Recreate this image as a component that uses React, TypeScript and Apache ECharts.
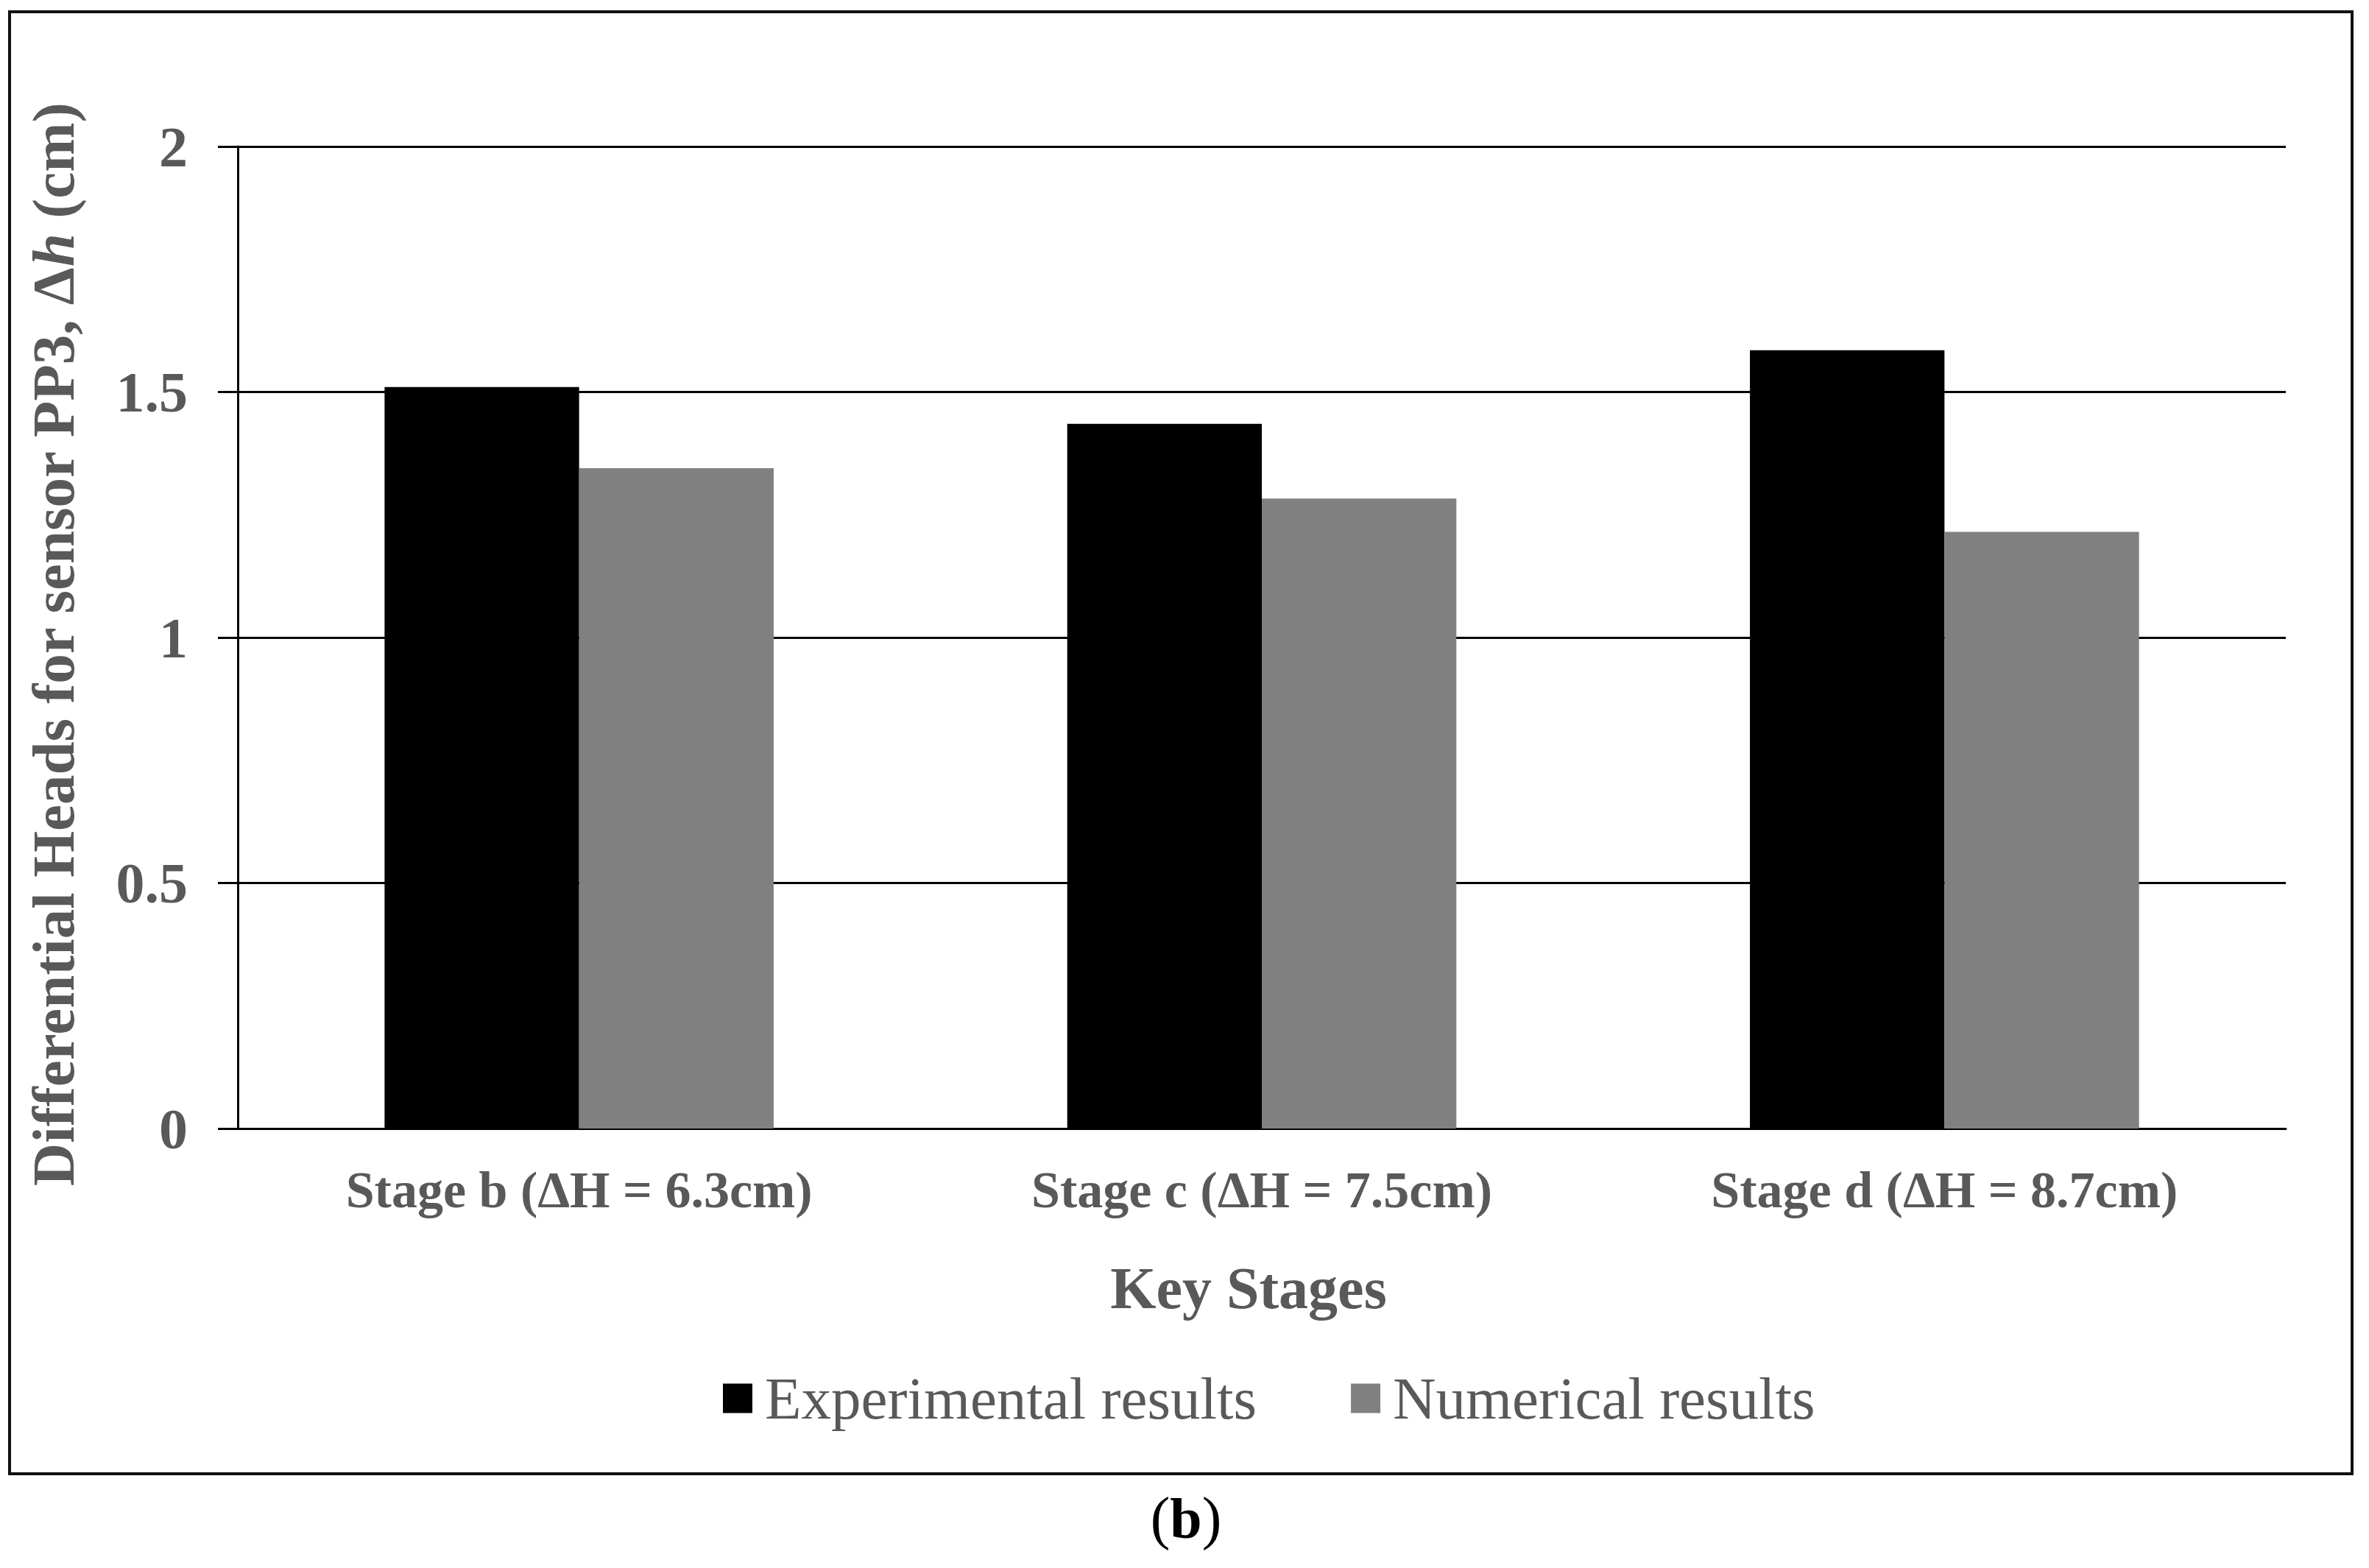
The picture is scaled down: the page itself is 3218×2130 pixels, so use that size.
import React, { useEffect, useRef } from "react";
import * as echarts from "echarts";

const categories = ["Stage b (ΔH = 6.3cm)", "Stage c (ΔH = 7.5cm)", "Stage d (ΔH = 8.7cm)"];
const experimental = [1.51, 1.435, 1.585];
const numerical = [1.345, 1.283, 1.215];
const seriesNames = ["Experimental results", "Numerical results"];
const yTicks = { min: 0, max: 2, interval: 0.5 };
const xTitle = "Key Stages";
const caption = ["(", "b", ")"];

const FONT = "'Liberation Serif', 'Times New Roman', serif";
const GREY_TEXT = "#595959";

export default function App() {
  const ref = useRef<HTMLDivElement>(null);
  useEffect(() => {
    if (!ref.current) return;
    const chart = echarts.init(ref.current, null, { renderer: "svg" });
    chart.setOption({
      animation: false,
      backgroundColor: "#ffffff",
      textStyle: { fontFamily: FONT },
      grid: { left: 323, right: 113, top: 199, bottom: 597, containLabel: false },
      legend: {
        data: seriesNames,
        left: 977,
        top: 1854,
        icon: "rect",
        itemWidth: 40,
        itemHeight: 40,
        itemGap: 128,
        textStyle: { fontFamily: FONT, fontSize: 81, color: GREY_TEXT, padding: [0, 0, 0, 12] },
      },
      xAxis: {
        type: "category",
        data: categories,
        name: xTitle,
        nameLocation: "middle",
        nameGap: 177,
        nameTextStyle: {
          fontFamily: FONT,
          fontSize: 80,
          fontWeight: "bold",
          color: GREY_TEXT,
          padding: [0, 36, 0, 0],
        },
        axisLine: { show: true, lineStyle: { color: "#000", width: 3 } },
        axisTick: { show: false },
        axisLabel: {
          fontFamily: FONT,
          fontSize: 70,
          fontWeight: "bold",
          color: GREY_TEXT,
          margin: 48,
          interval: 0,
        },
        splitLine: { show: false },
      },
      yAxis: {
        type: "value",
        min: yTicks.min,
        max: yTicks.max,
        interval: yTicks.interval,
        name: "{a|Differential Heads for sensor PP3, Δ}{b|h}{a| (cm)}",
        nameLocation: "middle",
        nameGap: 210,
        nameTextStyle: {
          padding: [0, 20, 0, 0],
          rich: {
            a: { fontFamily: FONT, fontSize: 81, fontWeight: "bold", color: GREY_TEXT },
            b: { fontFamily: FONT, fontSize: 81, fontWeight: "bold", fontStyle: "italic", color: GREY_TEXT },
          },
        },
        axisLine: { show: true, lineStyle: { color: "#000", width: 3 } },
        axisTick: { show: true, inside: false, length: 27, lineStyle: { color: "#000", width: 3 } },
        axisLabel: {
          fontFamily: FONT,
          fontSize: 78,
          fontWeight: "bold",
          color: GREY_TEXT,
          margin: 68,
        },
        splitLine: { show: true, lineStyle: { color: "#000", width: 3 } },
      },
      series: [
        {
          name: seriesNames[0],
          type: "bar",
          data: experimental,
          barGap: "0%",
          barCategoryGap: "43%",
          itemStyle: { color: "#000000" },
        },
        {
          name: seriesNames[1],
          type: "bar",
          data: numerical,
          barGap: "0%",
          barCategoryGap: "43%",
          itemStyle: { color: "#808080" },
        },
      ],
      graphic: [
        {
          type: "rect",
          shape: { x: 13, y: 16, width: 3182, height: 1986 },
          style: { fill: "none", stroke: "#111", lineWidth: 4 },
          silent: true,
        },
        {
          type: "text",
          x: 1611,
          y: 2062,
          style: {
            text: `{p|${caption[0]}}{b|${caption[1]}}{p|${caption[2]}}`,
            align: "center",
            verticalAlign: "middle",
            rich: {
              p: { fontFamily: FONT, fontSize: 80, color: "#000" },
              b: { fontFamily: FONT, fontSize: 78, fontWeight: "bold", color: "#000" },
            },
          },
        },
      ],
    });
    return () => chart.dispose();
  }, []);
  return (
    <div
      ref={ref}
      style={{ position: "absolute", left: 0, top: 0, width: 3218, height: 2130, background: "#fff" }}
    />
  );
}
